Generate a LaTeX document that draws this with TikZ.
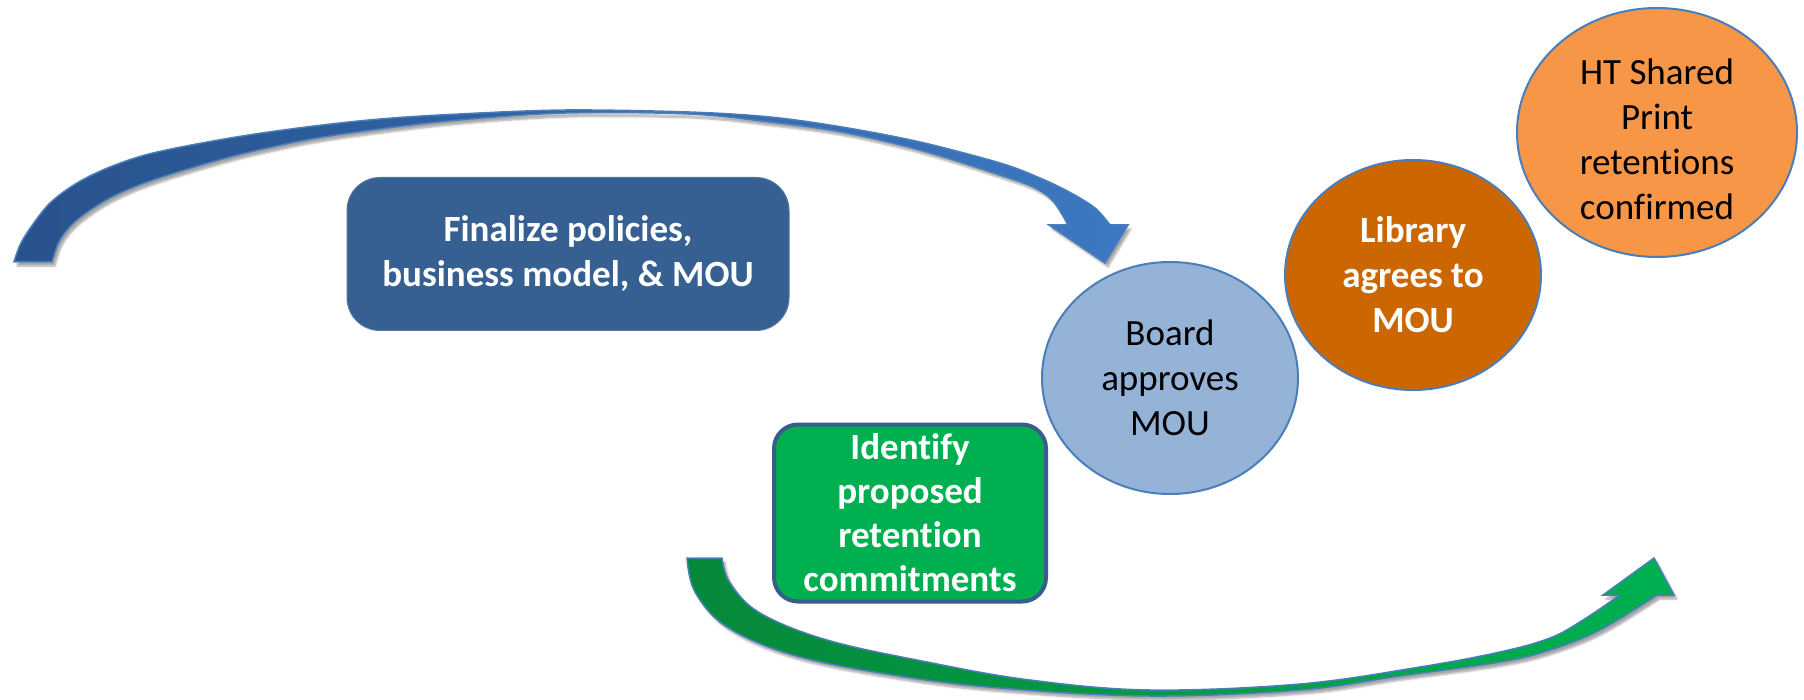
\documentclass[tikz,border=0pt]{standalone}
\usepackage{fontspec}
\setmainfont{Carlito}[Ligatures=NoCommon]
\usetikzlibrary{shapes.geometric,shadows.blur}
\definecolor{edgeblue}{HTML}{4A7EBB}
\definecolor{boxblue}{HTML}{376092}
\definecolor{boxgreen}{HTML}{00B050}
\definecolor{greenedge}{HTML}{385D8A}
\definecolor{boardfill}{HTML}{95B3D7}
\definecolor{libfill}{HTML}{CC6600}
\definecolor{htfill}{HTML}{F79646}
\definecolor{arrowtop}{HTML}{3C78C2}
\definecolor{arrowmid}{HTML}{3A74BE}
\definecolor{arrowbot}{HTML}{28528C}
\definecolor{gdark}{HTML}{06883A}
\definecolor{glight}{HTML}{00B050}
\begin{document}
\begin{tikzpicture}[x=1pt,y=-1pt,
  stepbox/.style={rectangle, inner sep=0pt, align=center, text=white,
    font=\bfseries\fontsize{37}{45}\selectfont},
  bubble/.style={ellipse, inner sep=0pt, align=center, draw=edgeblue, line width=2pt,
    font=\fontsize{37}{45}\selectfont},
  bubbletext/.style={inner sep=0pt, align=center, font=\fontsize{37}{45}\selectfont},
  arrowshape/.style={draw=edgeblue, line width=1.5pt, line join=miter,
    blur shadow={shadow xshift=3pt, shadow yshift=-4pt, shadow blur steps=6, shadow opacity=35}}
]
\useasboundingbox (0,0) rectangle (1804,700);

% blue curved arrow
\path[arrowshape, left color=arrowbot, middle color=arrowmid, right color=arrowtop]
  plot[smooth, tension=0.55] coordinates {(14,262) (20,245) (31,227) (50,203) (77,183) (110,167) (153,153) (230,138) (306,127) (380,119) (459,114) (566,110) (689,112) (770,117) (842,127) (920,142) (1000,163) (1040,178) (1071,193) (1095,208) (1110,225)}
  -- (1128,225) -- (1105,263) -- (1049,225)
  -- plot[smooth, tension=0.55] coordinates {(1068,225) (1053,201) (1033,187) (1000,175) (920,150) (842,132) (770,122) (689,114) (566,113) (459,120) (380,129) (306,140) (230,157) (153,180) (110,198) (77,220) (60,240) (52,262)}
  -- cycle;

% green curved arrow
\path[arrowshape, left color=gdark, right color=glight]
  plot[smooth, tension=0.6] coordinates {(687,558) (695,592) (727,627) (793,655) (893,675) (1000,688) (1150,696) (1300,690) (1400,676) (1500,662) (1550,650) (1600,630) (1657,595)}
  -- (1674,595) -- (1654,558) -- (1603,595)
  -- plot[smooth, tension=0.6] coordinates {(1620,595) (1583,620) (1550,638) (1500,652) (1420,667) (1300,684) (1150,690) (1030,680) (927,662) (827,640) (760,613) (730,583) (722,558)}
  -- cycle;

% boxes
\node[stepbox, fill=boxblue, draw=boxblue!85!white, line width=1pt, rounded corners=33pt,
  minimum width=442pt, minimum height=153pt] (finalize) at (568,254)
  {Finalize policies,\\business model, \& MOU};
\node[stepbox, fill=boxgreen, draw=greenedge, line width=4pt, rounded corners=24pt,
  font=\bfseries\fontsize{37}{44}\selectfont,
  minimum width=272pt, minimum height=177pt] (identify) at (910,513)
  {Identify\\proposed\\retention\\commitments};

% ellipses
\node[bubble, fill=boardfill, minimum width=256pt, minimum height=232pt] (board) at (1170,378)
  {Board\\approves\\MOU};
\node[bubble, fill=libfill, text=white, font=\bfseries\fontsize{37}{45}\selectfont,
  minimum width=256pt, minimum height=230pt] (library) at (1413,275)
  {Library\\agrees to\\MOU};
\node[bubble, fill=htfill, minimum width=280pt, minimum height=249pt] (ht) at (1657,132.5) {};
\node[bubbletext] (httext) at (1657,139) {HT Shared\\Print\\retentions\\confirmed};
\end{tikzpicture}
\end{document}
